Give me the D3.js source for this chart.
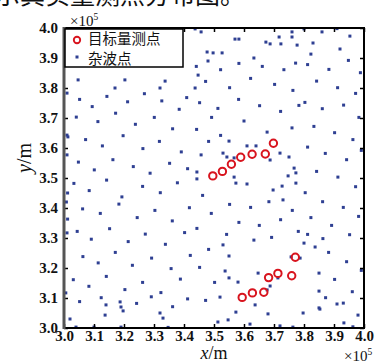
<!DOCTYPE html>
<html><head><meta charset="utf-8">
<script src="https://cdn.jsdelivr.net/npm/d3@7"></script>
<style>body{margin:0;background:#fff}svg{display:block}</style>
</head><body><svg id="c" width="382" height="363"></svg>
<script>
// ---- data (units: ×10^5 m) ----
const ticks = [3.0,3.1,3.2,3.3,3.4,3.5,3.6,3.7,3.8,3.9,4.0];
const legendLabels = ["目标量测点","杂波点"];
const targetX = [3.496,3.528,3.558,3.589,3.627,3.671,3.698, 3.594,3.628,3.666,3.682,3.713,3.759,3.771];
const targetY = [3.507,3.522,3.546,3.569,3.579,3.580,3.616, 3.102,3.117,3.119,3.168,3.182,3.174,3.236];
const clutter = [
 // top band
 [3.437,3.997],[3.457,3.987],[3.570,3.963],[3.583,3.963],[3.477,3.920],[3.497,3.917],[3.527,3.917],[3.633,3.900],
 [3.673,3.953],[3.687,3.947],[3.717,3.970],[3.723,3.947],[3.760,3.987],[3.760,3.970],[3.777,3.943],[3.800,3.997],
 [3.830,3.950],[3.823,3.913],[3.860,3.987],[3.910,3.998],[3.920,3.930],[3.953,3.973],
 [3.480,3.890],[3.047,3.827],[3.203,3.827],[3.170,3.800],[3.337,3.823],[3.320,3.800],[3.447,3.843],[3.437,3.800],
 // left edge
 [3.010,3.783],[3.010,3.643],[3.013,3.637],[3.010,3.577],[3.012,3.450],[3.008,3.420],[3.012,3.363],[3.010,3.317],[3.006,3.117],
 // centre (upper)
 [3.600,3.690],[3.760,3.667],[3.677,3.653],[3.550,3.623],[3.610,3.607],[3.640,3.607],[3.457,3.577],[3.530,3.583],
 [3.543,3.570],[3.567,3.567],[3.720,3.583],[3.687,3.560],[3.750,3.570],[3.767,3.533],[3.443,3.520],[3.443,3.497],
 [3.567,3.503],[3.573,3.483],[3.610,3.480],[3.747,3.507],[3.773,3.517],[3.773,3.483],[3.697,3.460],[3.727,3.473],[3.730,3.427],
 // centre (lower)
 [3.530,3.277],[3.633,3.293],[3.800,3.283],[3.837,3.270],[3.550,3.240],[3.757,3.237],[3.787,3.233],[3.537,3.190],
 [3.550,3.167],[3.580,3.153],[3.647,3.183],[3.713,3.167],[3.850,3.183],[3.687,3.140],[3.677,3.127],[3.850,3.123],
 [3.520,3.103],[3.637,3.077],[3.850,3.067],
 // bottom band
 [3.020,3.030],[3.040,3.003],[3.100,3.003],[3.140,3.077],[3.137,3.043],[3.187,3.087],[3.190,3.070],[3.197,3.057],
 [3.190,3.003],[3.320,3.050],[3.330,3.033],[3.347,3.002],[3.513,3.020],[3.547,3.027],[3.573,3.053],[3.620,3.013],
 [3.680,3.047],[3.720,3.007],[3.763,3.003],[3.797,3.050],[3.853,3.063],[3.910,3.080],[3.933,3.017],[3.963,3.004],[3.980,3.043],
 // left block
 [3.052,3.762],[3.094,3.738],[3.143,3.772],[3.212,3.754],[3.268,3.781],[3.326,3.757],[3.384,3.729],[3.409,3.768],
 [3.041,3.703],[3.113,3.688],[3.172,3.716],[3.238,3.679],[3.301,3.702],[3.362,3.664],
 [3.072,3.628],[3.128,3.607],[3.197,3.641],[3.263,3.598],[3.318,3.622],[3.391,3.587],
 [3.048,3.553],[3.101,3.527],[3.163,3.561],[3.231,3.538],[3.287,3.516],[3.352,3.549],[3.412,3.531],
 [3.033,3.482],[3.084,3.458],[3.142,3.493],[3.193,3.437],[3.262,3.472],[3.321,3.451],[3.378,3.484],
 [3.062,3.397],[3.121,3.382],[3.183,3.413],[3.244,3.368],[3.303,3.392],[3.361,3.357],[3.418,3.401],
 [3.044,3.322],[3.091,3.296],[3.152,3.331],[3.214,3.288],[3.271,3.313],[3.338,3.279],[3.402,3.318],
 [3.063,3.238],[3.114,3.217],[3.171,3.252],[3.228,3.209],[3.292,3.233],[3.357,3.198],[3.421,3.242],
 [3.031,3.161],[3.083,3.139],[3.141,3.172],[3.203,3.128],[3.262,3.152],[3.323,3.118],[3.388,3.163],
 [3.052,3.088],[3.124,3.101],[3.242,3.082],[3.291,3.104],[3.362,3.071],[3.412,3.097],
 // right block
 [3.812,3.878],[3.883,3.862],[3.948,3.892],[3.988,3.851],[3.842,3.823],[3.912,3.801],[3.972,3.782],
 [3.803,3.752],[3.861,3.731],[3.932,3.743],[3.983,3.702],[3.833,3.672],[3.902,3.651],[3.963,3.628],
 [3.812,3.603],[3.871,3.582],[3.942,3.561],[3.991,3.592],[3.842,3.522],[3.913,3.503],[3.972,3.471],
 [3.804,3.451],[3.862,3.421],[3.931,3.402],[3.982,3.372],[3.823,3.368],[3.892,3.342],[3.952,3.311],
 [3.812,3.312],[3.863,3.298],
 [3.882,3.252],[3.942,3.221],[3.991,3.192],[3.902,3.162],[3.961,3.121],[3.872,3.101],[3.931,3.083],
 // middle top
 [3.441,3.872],[3.522,3.861],[3.583,3.882],[3.661,3.872],[3.733,3.861],[3.772,3.883],[3.472,3.822],[3.552,3.801],
 [3.622,3.832],[3.702,3.812],[3.763,3.792],[3.452,3.751],[3.513,3.732],[3.582,3.762],[3.652,3.741],[3.722,3.722],
 [3.783,3.742],[3.492,3.702],
 // middle misc
 [3.462,3.442],[3.491,3.382],[3.443,3.332],[3.482,3.262],[3.452,3.202],[3.502,3.152],[3.472,3.092],
 [3.552,3.412],[3.622,3.402],[3.683,3.421],[3.761,3.392],[3.583,3.352],[3.651,3.342],[3.722,3.361],[3.781,3.322],
 [3.542,3.312],[3.692,3.302],
 [3.442,3.662],[3.482,3.622],[3.522,3.642]
];

// ---- chart ----
const svg = d3.select("#c");
const L = 64, R = 364, T = 28, B = 328;
const x = d3.scaleLinear().domain([3,4]).range([L,R]);
const y = d3.scaleLinear().domain([3,4]).range([B,T]);
const serif = "'Liberation Serif','Times New Roman',serif";
const cjk = "'Noto Sans CJK SC','Noto Sans CJK JP',sans-serif";

// caption fragment at top (cut off)
svg.append("text").attr("x",-5).attr("y",4).attr("font-family",cjk)
  .attr("font-size",25).attr("fill","#111").text("示真实量测点分布图。");

// clutter points
svg.append("g").selectAll("rect").data(clutter).join("rect")
  .attr("x",d=>x(d[0])-1.5).attr("y",d=>y(d[1])-1.5)
  .attr("width",3).attr("height",3).attr("fill","#2e3f92");

// target points
svg.append("g").selectAll("circle").data(targetX.map((v,i)=>[v,targetY[i]])).join("circle")
  .attr("cx",d=>x(d[0])).attr("cy",d=>y(d[1])).attr("r",3.7)
  .attr("fill","none").attr("stroke","#d8141e").attr("stroke-width",2);

// axes
const fmt = d3.format(".1f");
function style(g){ g.select(".domain").remove(); g.selectAll(".tick line").attr("stroke","#000").attr("stroke-width",1.5);
  g.selectAll("text").attr("font-family",serif).attr("font-weight","bold").attr("font-size",15).attr("fill","#111"); }
svg.append("g").attr("transform",`translate(0,${B})`)
  .call(d3.axisBottom(x).tickValues(ticks).tickFormat(fmt).tickSize(-4).tickPadding(2)).call(style);
svg.append("g").attr("transform",`translate(${L},0)`)
  .call(d3.axisLeft(y).tickValues(ticks).tickFormat(fmt).tickSize(-4).tickPadding(6)).call(style);
svg.append("g").attr("transform",`translate(0,${T})`)
  .call(d3.axisTop(x).tickValues(ticks).tickFormat("").tickSize(-4)).call(style);
svg.append("g").attr("transform",`translate(${R},0)`)
  .call(d3.axisRight(y).tickValues(ticks).tickFormat("").tickSize(-4)).call(style);

// frame
svg.append("path").attr("d",`M${L},${T}H${R}V${B}H${L}`).attr("fill","none").attr("stroke","#000").attr("stroke-width",2);
svg.append("line").attr("x1",L).attr("x2",L).attr("y1",T-1).attr("y2",B+1).attr("stroke","#555").attr("stroke-width",3);

// legend
const lg = svg.append("g");
lg.append("rect").attr("x",L+1).attr("y",T+1).attr("width",118).attr("height",38)
  .attr("fill","#fff").attr("stroke","#000").attr("stroke-width",1.5);
lg.append("circle").attr("cx",77).attr("cy",40).attr("r",3.2).attr("fill","none").attr("stroke","#d8141e").attr("stroke-width",1.9);
lg.append("rect").attr("x",75.5).attr("y",55.5).attr("width",3).attr("height",3).attr("fill","#2e3f92");
lg.selectAll("text").data(legendLabels).join("text")
  .attr("x",88).attr("y",(d,i)=>44+i*20).attr("font-family",cjk).attr("font-size",14.5).attr("fill","#111").text(d=>d);

// multipliers
function mult(xp,yp){ const t=svg.append("text").attr("x",xp).attr("y",yp).attr("font-family",serif).attr("font-size",15).attr("fill","#111");
  t.append("tspan").text("×10"); t.append("tspan").attr("font-size",9.5).attr("dy",-6).text("5"); }
mult(70,26); mult(344,361);

// axis titles
const xt = svg.append("text").attr("x",214).attr("y",359).attr("text-anchor","middle").attr("font-family",serif).attr("font-size",18).attr("fill","#111");
xt.append("tspan").attr("font-style","italic").text("x"); xt.append("tspan").text("/m");
const yt = svg.append("text").attr("transform","translate(31,158) rotate(-90)").attr("text-anchor","middle").attr("font-family",serif).attr("font-size",20).attr("fill","#111");
yt.append("tspan").attr("font-style","italic").text("y"); yt.append("tspan").text("/m");
</script></body></html>
